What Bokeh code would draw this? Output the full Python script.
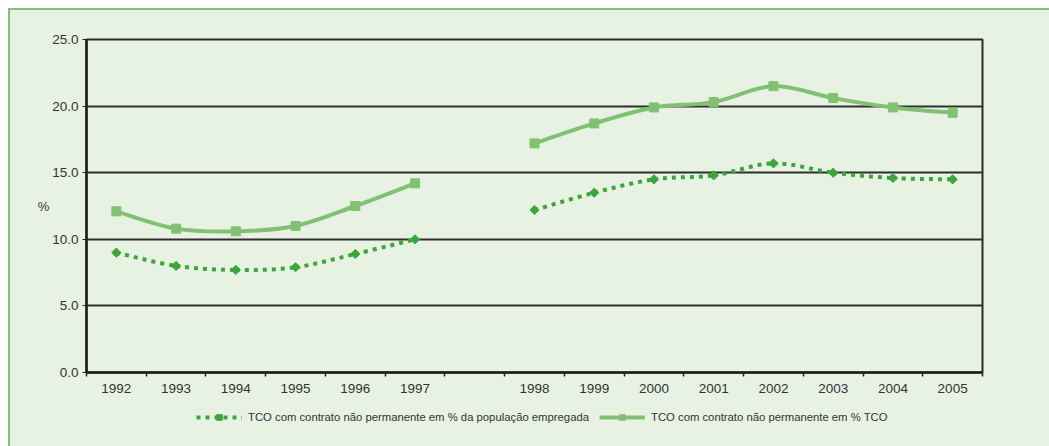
import numpy as np
from bokeh.plotting import figure
from bokeh.layouts import column
from bokeh.models import Range1d, FixedTicker, Legend, LegendItem, ColumnDataSource, PrintfTickFormatter
from bokeh.embed import file_html
from bokeh.resources import INLINE

# Category slots along the x axis ("" leaves an empty slot between 1997 and 1998)
slots = ["1992", "1993", "1994", "1995", "1996", "1997", "",
         "1998", "1999", "2000", "2001", "2002", "2003", "2004", "2005"]
years = ["1992", "1993", "1994", "1995", "1996", "1997",
         "1998", "1999", "2000", "2001", "2002", "2003", "2004", "2005"]

# TCO com contrato não permanente em % da população empregada
share_employed = [9.0, 8.0, 7.7, 7.9, 8.9, 10.0,
                  12.2, 13.5, 14.5, 14.8, 15.7, 15.0, 14.6, 14.5]
# TCO com contrato não permanente em % TCO
share_tco = [12.1, 10.8, 10.6, 11.0, 12.5, 14.2,
             17.2, 18.7, 19.9, 20.3, 21.5, 20.6, 19.9, 19.5]

y_ticks = [0, 5, 10, 15, 20, 25]
label_employed = "TCO com contrato não permanente em % da população empregada"
label_tco = "TCO com contrato não permanente em % TCO"

BG = "#e7f2e3"
FRAME_GREEN = "#7dc47a"
LIGHT = "#82c173"
DARK = "#3ca53c"
TEXT = "#333333"
FONT = "Liberation Sans"

# x position of each year = centre of its slot
xpos = [slots.index(y) + 0.5 for y in years]


def smooth_runs(xs, ys):
    """Bezier segments (Excel-style smoothing) for each contiguous run of slots."""
    runs, cur = [], [0]
    for i in range(1, len(xs)):
        if xs[i] - xs[i - 1] > 1.0:
            runs.append(cur)
            cur = []
        cur.append(i)
    runs.append(cur)
    seg = {k: [] for k in ("x0", "y0", "x1", "y1", "cx0", "cy0", "cx1", "cy1")}
    for run in runs:
        px = np.array([xs[i] for i in run], float)
        py = np.array([ys[i] for i in run], float)
        n = len(px)
        for i in range(n - 1):
            a, d = max(i - 1, 0), min(i + 2, n - 1)
            seg["x0"].append(px[i]); seg["y0"].append(py[i])
            seg["x1"].append(px[i + 1]); seg["y1"].append(py[i + 1])
            seg["cx0"].append(px[i] + (px[i + 1] - px[a]) / 6)
            seg["cy0"].append(py[i] + (py[i + 1] - py[a]) / 6)
            seg["cx1"].append(px[i + 1] - (px[d] - px[i]) / 6)
            seg["cy1"].append(py[i + 1] - (py[d] - py[i]) / 6)
    return ColumnDataSource(seg)


BEZ = dict(x0="x0", y0="y0", x1="x1", y1="y1", cx0="cx0", cy0="cy0", cx1="cx1", cy1="cy1")
tco_src = smooth_runs(xpos, share_tco)
emp_src = smooth_runs(xpos, share_employed)


def draw_series(fig):
    """Draw both series on a figure; returns the renderers used by the legend."""
    solid = fig.bezier(source=tco_src, line_color=LIGHT, line_width=4, **BEZ)
    dashed = fig.bezier(source=emp_src, line_color=DARK, line_width=4, line_dash="4 5", **BEZ)
    sq = fig.scatter(xpos, share_tco, marker="square", size=9,
                     fill_color=LIGHT, line_color=LIGHT)
    dm = fig.scatter(xpos, share_employed, marker="square", angle=np.pi / 4, size=6.5,
                     fill_color=DARK, line_color=DARK)
    return solid, dashed, sq, dm


x_range = Range1d(0, len(slots))

p = figure(width=1039, height=396, output_backend="svg", toolbar_location=None,
           x_range=x_range, y_range=Range1d(0, 25),
           min_border_left=76, min_border_right=67, min_border_top=29, min_border_bottom=34)
p.background_fill_color = BG
p.border_fill_color = BG
p.outline_line_color = "#2a2a2a"
p.outline_line_width = 2

# grid
p.xgrid.visible = False
p.ygrid.ticker = FixedTicker(ticks=y_ticks)
p.ygrid.grid_line_color = "#2e2e2e"
p.ygrid.grid_line_width = 2

# x axis: labels at slot centres, tick marks at slot boundaries
p.xaxis.ticker = FixedTicker(ticks=[i + 0.5 for i in range(len(slots))],
                             minor_ticks=list(range(len(slots) + 1)))
p.xaxis.major_label_overrides = {i + 0.5: s for i, s in enumerate(slots)}
p.xaxis.major_tick_out = 0
p.xaxis.major_tick_in = 0
p.xaxis.minor_tick_out = 4
p.xaxis.minor_tick_in = 0
p.xaxis.minor_tick_line_color = "#222222"
p.xaxis.minor_tick_line_width = 1.5
p.xaxis.axis_line_width = 2.5
p.xaxis.axis_line_color = "#1e1e1e"
p.xaxis.major_label_standoff = 7

# y axis
p.yaxis.ticker = FixedTicker(ticks=y_ticks)
p.yaxis.formatter = PrintfTickFormatter(format="%.1f")
p.yaxis.major_tick_out = 4
p.yaxis.major_tick_in = 0
p.yaxis.minor_tick_out = 0
p.yaxis.minor_tick_in = 0
p.yaxis.major_tick_line_color = "#222222"
p.yaxis.axis_line_width = 2.5
p.yaxis.axis_line_color = "#1e1e1e"
p.yaxis.major_label_standoff = 4
p.yaxis.axis_label = "%"
p.yaxis.axis_label_orientation = "horizontal"
p.yaxis.axis_label_standoff = 0
p.yaxis.axis_label_text_font_style = "normal"
p.yaxis.axis_label_text_font_size = "13px"
p.yaxis.axis_label_text_font = FONT
p.yaxis.axis_label_text_color = TEXT

for ax in (p.xaxis, p.yaxis):
    ax.major_label_text_font = FONT
    ax.major_label_text_font_size = "13.5px"
    ax.major_label_text_color = TEXT

draw_series(p)

# legend strip underneath the chart (series drawn outside its visible y range)
lg = figure(width=1039, height=40, output_backend="svg", toolbar_location=None,
            x_range=x_range, y_range=Range1d(-2, -1),
            min_border_left=0, min_border_right=0, min_border_top=0, min_border_bottom=0)
lg.axis.visible = False
lg.grid.visible = False
lg.outline_line_color = None
lg.background_fill_color = BG
lg.border_fill_color = BG
l_solid, l_dashed, l_sq, l_dm = draw_series(lg)

legend = Legend(items=[LegendItem(label=label_employed, renderers=[l_dashed, l_dm]),
                       LegendItem(label=label_tco, renderers=[l_solid, l_sq])],
                orientation="horizontal", location=(110, 22),
                background_fill_alpha=0, border_line_alpha=0,
                padding=0, margin=0, spacing=10,
                glyph_width=46, glyph_height=14, label_standoff=6, label_height=14,
                label_text_font=FONT, label_text_font_size="11.3px",
                label_text_color=TEXT)
lg.add_layout(legend)

page = column(p, lg, spacing=0)
page.styles = {"margin-left": "8px", "margin-top": "8px", "background-color": BG,
               "border-left": f"2px solid {FRAME_GREEN}", "border-top": f"2px solid {FRAME_GREEN}"}

open("out.html", "w").write(file_html(page, INLINE))
